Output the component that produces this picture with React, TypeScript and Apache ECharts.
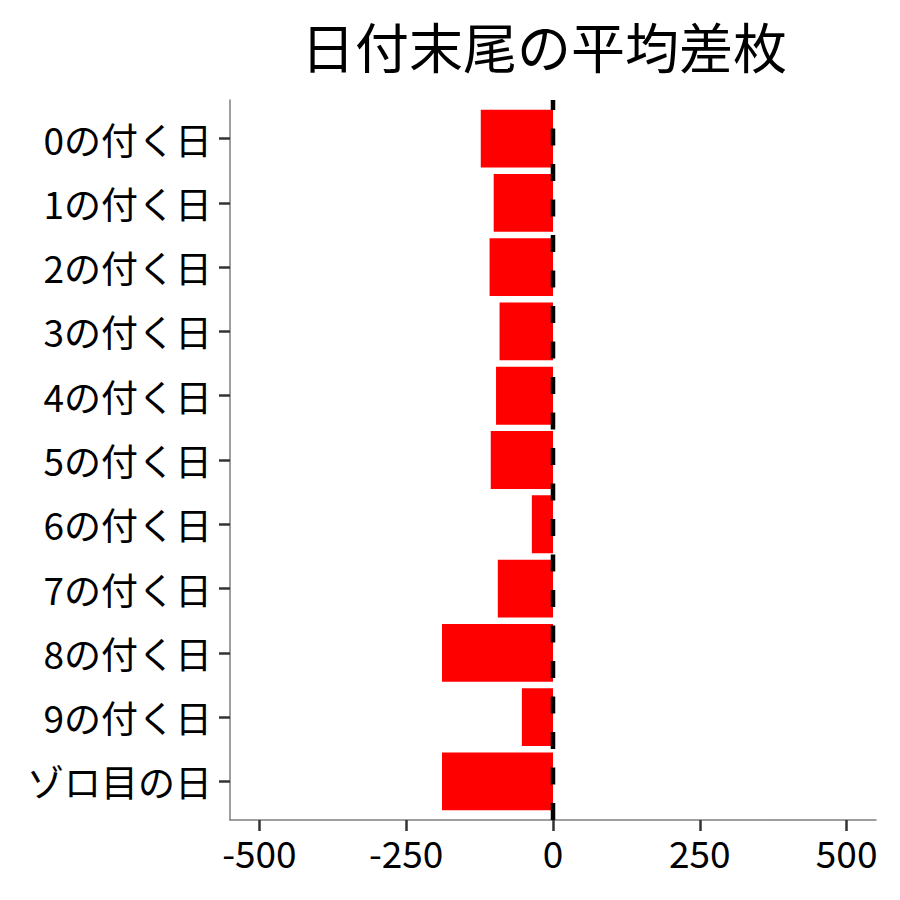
import { useEffect, useRef } from "react";
import * as echarts from "echarts";

const title = "日付末尾の平均差枚";
const categories = [
  "0の付く日",
  "1の付く日",
  "2の付く日",
  "3の付く日",
  "4の付く日",
  "5の付く日",
  "6の付く日",
  "7の付く日",
  "8の付く日",
  "9の付く日",
  "ゾロ目の日",
];
const avgDiff = [-123, -101, -108, -91, -97, -106, -36, -94, -189, -53, -189];
const xTicks = [-500, -250, 0, 250, 500];

const FONT = '"Noto Sans CJK JP", "Noto Sans", sans-serif';

export default function App() {
  const ref = useRef<HTMLDivElement>(null);

  useEffect(() => {
    if (!ref.current) return;
    const chart = echarts.init(ref.current, undefined, { renderer: "svg" });

    // ggplot pads a discrete axis by 0.6 of a step on each side,
    // so the bar grid is a little shorter than the frame grid
    const frameTop = 100;
    const frameBottom = 80;
    const step = (900 - frameTop - frameBottom) / (categories.length + 0.2);
    const pad = step * 0.1;

    chart.setOption({
      animation: false,
      backgroundColor: "#FFFFFF",
      textStyle: { fontFamily: FONT },
      graphic: [
        {
          type: "text",
          x: 544,
          y: 45,
          style: {
            text: title,
            font: `54px ${FONT}`,
            fill: "#000000",
            textAlign: "center",
            textVerticalAlign: "middle",
          },
        },
      ],
      grid: [
        { left: 230, right: 24, top: frameTop, bottom: frameBottom },
        { left: 230, right: 24, top: frameTop + pad, bottom: frameBottom + pad },
      ],
      xAxis: [
        {
          type: "value",
          gridIndex: 0,
          min: -550,
          max: 550,
          axisLine: { show: true, onZero: false, lineStyle: { color: "#7F7F7F", width: 1.5 } },
          axisTick: {
            show: true,
            length: 11,
            customValues: xTicks,
            lineStyle: { color: "#333333", width: 2.5 },
          },
          axisLabel: {
            customValues: xTicks,
            color: "#000000",
            fontSize: 37,
            fontFamily: FONT,
            margin: 13,
          },
          splitLine: { show: false },
        },
        { type: "value", gridIndex: 1, min: -550, max: 550, show: false },
      ],
      yAxis: [
        {
          type: "value",
          gridIndex: 0,
          min: -0.6,
          max: 10.6,
          axisLine: { show: true, onZero: false, lineStyle: { color: "#7F7F7F", width: 1.5 } },
          axisTick: { show: false },
          axisLabel: { show: false },
          splitLine: { show: false },
        },
        {
          type: "category",
          gridIndex: 1,
          inverse: true,
          data: categories,
          axisLine: { show: true, onZero: false, lineStyle: { color: "rgba(0,0,0,0)" } },
          axisTick: {
            show: true,
            alignWithLabel: true,
            length: 11,
            lineStyle: { color: "#333333", width: 2.5 },
          },
          axisLabel: {
            color: "#000000",
            fontSize: 37,
            fontFamily: FONT,
            margin: 18,
          },
        },
      ],
      series: [
        {
          type: "bar",
          xAxisIndex: 1,
          yAxisIndex: 1,
          data: avgDiff,
          barCategoryGap: "10%",
          itemStyle: { color: "#FF0000" },
          z: 2,
        },
        {
          // dashed zero line over the full panel height
          type: "line",
          xAxisIndex: 0,
          yAxisIndex: 0,
          data: [
            [0, -0.6],
            [0, 10.6],
          ],
          symbol: "none",
          clip: false,
          lineStyle: { color: "#000000", width: 4.5, type: [17, 18.5], dashOffset: 0 },
          z: 5,
        },
      ],
    });

    return () => chart.dispose();
  }, []);

  return (
    <div
      ref={ref}
      style={{ position: "fixed", left: 0, top: 0, width: 900, height: 900 }}
    />
  );
}
